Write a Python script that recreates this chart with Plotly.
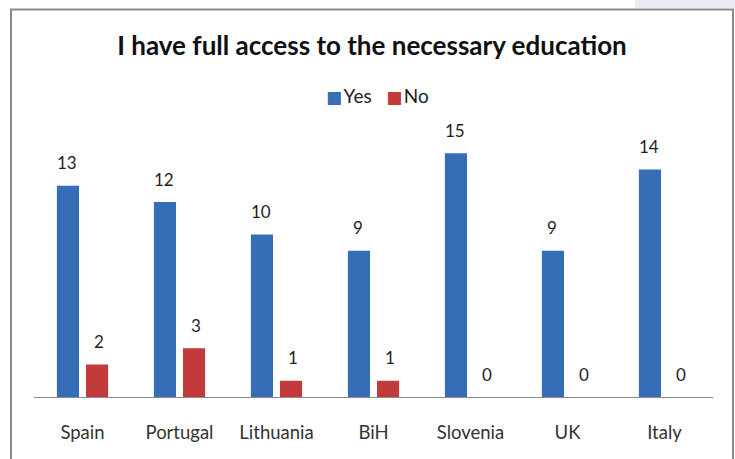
import plotly.graph_objects as go

# Survey answers per country
countries = ["Spain", "Portugal", "Lithuania", "BiH", "Slovenia", "UK", "Italy"]
yes_counts = [13, 12, 10, 9, 15, 9, 14]
no_counts = [2, 3, 1, 1, 0, 0, 0]
series_names = ["Yes", "No"]

title_text = "I have full access to the necessary education"
font_family = "Lato, 'Open Sans', sans-serif"

BLUE = "#356db6"
RED = "#c23a3a"

fig = go.Figure()
fig.add_trace(go.Bar(
    name=series_names[0], x=countries, y=yes_counts,
    marker=dict(color=BLUE, line=dict(width=0)),
))
fig.add_trace(go.Bar(
    name=series_names[1], x=countries, y=no_counts,
    marker=dict(color=RED, line=dict(width=0)),
))

# Value labels above each bar, shifted onto their bar within the group
annotations = []
for series, shift in ((yes_counts, -16), (no_counts, 16)):
    for c, v in zip(countries, series):
        annotations.append(dict(
            x=c, y=v, xref="x", yref="y", text=str(v), showarrow=False,
            xshift=shift, yshift=23, font=dict(size=17, color="#1e1e1e", family=font_family),
        ))

# Compact legend line with small square keys
key = ("<span style='color:{c};font-family:DejaVu Sans;font-size:17px'>■</span>"
       "<span style='font-size:6px'>&nbsp;</span>")
legend_text = (
    key.format(c=BLUE) + f"{series_names[0]}&nbsp;&nbsp;&nbsp;"
    + key.format(c=RED) + f"{series_names[1]}"
)
annotations.append(dict(
    text=legend_text, xref="paper", yref="paper", x=(377 - 34) / 679, y=(397 - 96) / 260,
    xanchor="center", yanchor="middle", showarrow=False,
    font=dict(size=19, color="#222222", family=font_family),
))

fig.update_layout(
    width=735, height=459,
    margin=dict(l=34, r=22, t=137, b=62),
    paper_bgcolor="white", plot_bgcolor="white",
    barmode="group", bargap=0.40, bargroupgap=0.24,
    title=dict(text=title_text, x=372 / 735, xanchor="center", y=1 - 46 / 459, yanchor="middle",
               font=dict(size=26, color="#111111", family=font_family, weight="bold")),
    showlegend=False,
    xaxis=dict(showline=True, linecolor="#8c8c8c", linewidth=1, ticks="",
               tickfont=dict(size=18.5, color="#333333", family=font_family),
               showgrid=False, zeroline=False, ticklabelstandoff=19),
    yaxis=dict(range=[0, 16], visible=False, showgrid=False, zeroline=False),
    annotations=annotations,
    shapes=[
        dict(type="rect", xref="paper", yref="paper",
             x0=(635 - 34) / 679, x1=(740 - 34) / 679, y0=(397 - 8) / 260, y1=(397 + 5) / 260,
             fillcolor="#ebebf6", line=dict(width=0), layer="below"),
        dict(type="rect", xref="paper", yref="paper",
             x0=(11 - 34) / 679, x1=(733 - 34) / 679, y0=(397 - 470) / 260, y1=(397 - 9.5) / 260,
             fillcolor="rgba(0,0,0,0)", line=dict(color="#8a8a8a", width=2), layer="below"),
    ],
)

fig.write_html("out.html")
